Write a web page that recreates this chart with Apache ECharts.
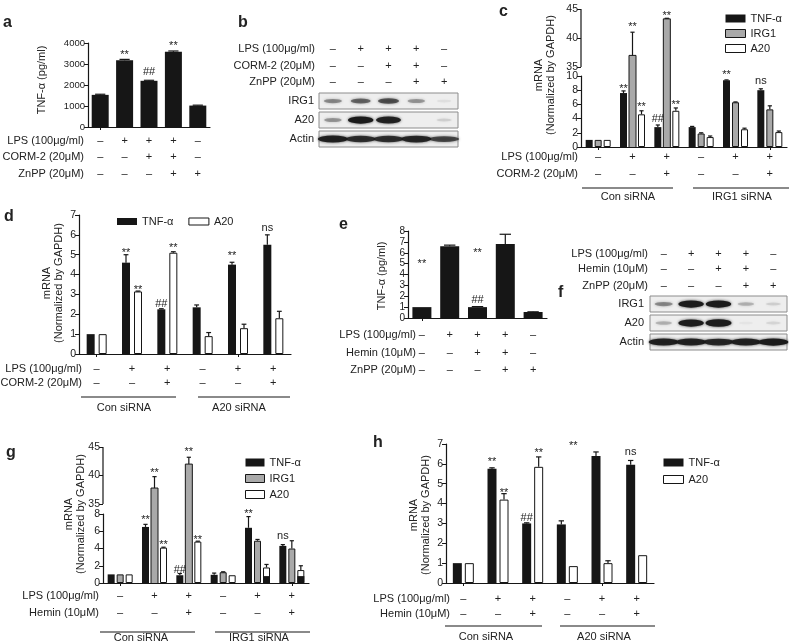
<!DOCTYPE html>
<html>
<head>
<meta charset="utf-8">
<script src="https://cdn.jsdelivr.net/npm/echarts@6/dist/echarts.min.js"></script>
<style>
  html, body { margin: 0; padding: 0; background: #fff; }
  #chart { width: 789px; height: 644px; }
</style>
</head>
<body>
<div id="chart"></div>
<script>
// ---------- data ----------
// a: TNF-α ELISA
const aConditions = ['ctrl', 'LPS', 'LPS+CORM-2', 'LPS+CORM-2+ZnPP', 'ZnPP'];
const aTnf = [1530, 3180, 2200, 3580, 1020];
const aTnfErr = [30, 40, 25, 40, 20];
const aLps = ['–', '+', '+', '+', '–'];
const aCorm = ['–', '–', '+', '+', '–'];
const aZnpp = ['–', '–', '–', '+', '+'];
const aNotes = [[1, 0, 3570, '**'], [2, 0, 2620, '##'], [3, 0, 4000, '**']];

// b: western blot (band intensity 0..1)
const bLanes = ['1', '2', '3', '4', '5'];
const bLps = ['–', '+', '+', '+', '–'];
const bCorm = ['–', '–', '+', '+', '–'];
const bZnpp = ['–', '–', '–', '+', '+'];
const bIrg1 = [0.35, 0.5, 0.6, 0.3, 0.05];
const bA20 = [0.3, 0.95, 0.9, 0.0, 0.1];
const bActin = [0.9, 0.8, 0.8, 0.85, 0.65];

// c: mRNA, Con siRNA vs IRG1 siRNA, CORM-2
const cConditions = ['Con', 'Con LPS', 'Con LPS+CORM-2', 'IRG1', 'IRG1 LPS', 'IRG1 LPS+CORM-2'];
const cTnf = [1, 7.6, 2.8, 2.8, 9.4, 8.0];
const cTnfErr = [0, 0.3, 0.3, 0.1, 0.05, 0.2];
const cIrg1 = [1, 37, 43.3, 1.9, 6.3, 5.3];
const cIrg1Err = [0, 4, 0.1, 0.1, 0.05, 0.5];
const cA20 = [1, 4.6, 5.1, 1.4, 2.5, 2.1];
const cA20Err = [0, 0.5, 0.4, 0.15, 0.15, 0.15];
const cLps = ['–', '+', '+', '–', '+', '+'];
const cCorm = ['–', '–', '+', '–', '–', '+'];
const cUpperTicks = [35, 40, 45];
const cNotes = [[1, 0, 8.6, '**'], [1, 1, 42.5, '**'], [1, 2, 6.1, '**'], [2, 0, 3.9, '##'],
  [2, 1, 44.3, '**'], [2, 2, 6.4, '**'], [4, 0, 10.6, '**'], [5, 0, 9.3, 'ns']];

// d: mRNA, Con siRNA vs A20 siRNA, CORM-2
const dConditions = ['Con', 'Con LPS', 'Con LPS+CORM-2', 'A20', 'A20 LPS', 'A20 LPS+CORM-2'];
const dTnf = [1, 4.6, 2.25, 2.35, 4.5, 5.5];
const dTnfErr = [0, 0.4, 0.03, 0.12, 0.12, 0.5];
const dA20 = [1, 3.15, 5.1, 0.9, 1.3, 1.8];
const dA20Err = [0, 0.02, 0.05, 0.18, 0.2, 0.35];
const dLps = ['–', '+', '+', '–', '+', '+'];
const dCorm = ['–', '–', '+', '–', '–', '+'];
const dNotes = [[1, 0, 5.24, '**'], [1, 1, 3.37, '**'], [2, 0, 2.52, '##'], [2, 1, 5.5, '**'],
  [4, 0, 5.08, '**'], [5, 0, 6.34, 'ns']];

// e: TNF-α ELISA with hemin
const eConditions = ['ctrl', 'LPS', 'LPS+Hemin', 'LPS+Hemin+ZnPP', 'ZnPP'];
const eTnf = [1.0, 6.6, 1.0, 6.8, 0.55];
const eTnfErr = [0, 0.1, 0.05, 0.9, 0.02];
const eLps = ['–', '+', '+', '+', '–'];
const eHemin = ['–', '–', '+', '+', '–'];
const eZnpp = ['–', '–', '–', '+', '+'];
const eNotes = [[0, 0, 5.23, '**'], [2, 0, 6.24, '**'], [2, 0, 1.65, '##']];

// f: western blot with hemin
const fLps = ['–', '+', '+', '+', '–'];
const fHemin = ['–', '–', '+', '+', '–'];
const fZnpp = ['–', '–', '–', '+', '+'];
const fIrg1 = [0.35, 0.95, 0.95, 0.2, 0.1];
const fA20 = [0.2, 0.95, 1.0, 0.03, 0.08];
const fActin = [0.9, 0.9, 0.85, 0.9, 0.95];

// g: mRNA, Con siRNA vs IRG1 siRNA, hemin
const gTnf = [1, 6.5, 0.9, 0.95, 6.4, 4.3];
const gTnfErr = [0, 0.3, 0.2, 0.2, 1.3, 0.15];
const gIrg1 = [1, 37.8, 42, 1.25, 4.9, 4.0];
const gIrg1Err = [0, 2, 1.2, 0.05, 0.15, 0.9];
const gA20 = [1, 4.1, 4.8, 0.9, 1.8, 1.5];
const gA20Err = [0, 0.05, 0.05, 0, 0.35, 0.5];
const gA20Dark = [0, 0, 0, 0, 0.8, 0.8];
const gLps = ['–', '+', '+', '–', '+', '+'];
const gHemin = ['–', '–', '+', '–', '–', '+'];
const gUpperTicks = [35, 40, 45];
const gNotes = [[1, 0, 7.67, '**'], [1, 1, 41.0, '**'], [1, 2, 4.77, '**'], [2, 0, 1.5, '##'],
  [2, 1, 44.65, '**'], [2, 2, 5.35, '**'], [4, 0, 8.4, '**'], [5, 0, 5.47, 'ns']];

// h: mRNA, Con siRNA vs A20 siRNA, hemin
const hTnf = [1, 5.75, 3.0, 2.95, 6.4, 5.95];
const hTnfErr = [0, 0.05, 0.03, 0.18, 0.2, 0.22];
const hA20 = [1, 4.2, 5.85, 0.85, 1.0, 1.4];
const hA20Err = [0, 0.3, 0.5, 0, 0.12, 0];
const hLps = ['–', '+', '+', '–', '+', '+'];
const hHemin = ['–', '–', '+', '–', '–', '+'];
const hNotes = [[1, 0, 6.25, '**'], [1, 1, 4.7, '**'], [2, 0, 3.3, '##'], [2, 1, 6.7, '**'],
  [3, 1, 7.05, '**'], [5, 0, 6.6, 'ns']];

// ---------- helpers ----------
const FONT = '"Liberation Sans", Arial, sans-serif';
const INK = '#161616';
const TXT = '#222';
const TNF_COLOR = '#161616', IRG1_COLOR = '#a9a9a9', A20_COLOR = '#ffffff';

const option = {
  animation: false,
  backgroundColor: '#fff',
  textStyle: { fontFamily: FONT },
  grid: [], xAxis: [], yAxis: [], series: [], legend: [], graphic: []
}

const addGrid = (box, extra) => {
  option.grid.push(Object.assign({ left: box.left, top: box.top, width: box.width, height: box.height }, extra || {}))
  return option.grid.length - 1
}
const addX = (gridIndex, o) => { option.xAxis.push(Object.assign({ gridIndex }, o)); return option.xAxis.length - 1 }
const addY = (gridIndex, o) => { option.yAxis.push(Object.assign({ gridIndex }, o)); return option.yAxis.length - 1 }

const mainX = (gi, cats) => addX(gi, {
  type: 'category', data: cats,
  axisLine: { show: true, onZero: false, lineStyle: { color: INK, width: 1.2 } },
  axisTick: { show: true, alignWithLabel: true, length: 3, lineStyle: { color: INK } },
  axisLabel: { show: false }, splitLine: { show: false }
})
const hiddenX = (gi, cats) => addX(gi, { type: 'category', data: cats, show: false })

const valueY = (gi, min, max, interval, fontSize) => addY(gi, {
  type: 'value', min, max, interval,
  axisLine: { show: true, lineStyle: { color: INK, width: 1.2 } },
  axisTick: { show: true, length: 4, lineStyle: { color: INK } },
  axisLabel: { fontSize: fontSize || 10.5, color: TXT, margin: 3, fontFamily: 'Liberation Sans', formatter: v => String(v) },
  splitLine: { show: false }
})

// row of +/– under (or above) a panel, one label per lane
const signRow = (gi, values, offset, position) => addX(gi, {
  type: 'category', data: values, position: position || 'bottom', offset,
  axisLine: { show: false, onZero: false }, axisTick: { show: false }, splitLine: { show: false },
  axisLabel: { interval: 0, margin: 0, verticalAlign: 'middle', fontSize: 11, color: TXT, fontFamily: 'Liberation Sans' }
})

const barOffsets = (n, w, gap) => Array.from({ length: n }, (_, k) => (k - (n - 1) / 2) * (w + gap))

const addBars = (xi, yi, bars, w, gap, keep) => {
  bars.forEach(b => {
    option.series.push({
      type: 'bar', name: b.name, xAxisIndex: xi, yAxisIndex: yi,
      barWidth: w, barGap: (gap / w * 100) + '%', silent: true, clip: true,
      data: b.values.map(v => (keep(v) ? v : null)),
      itemStyle: { color: b.color, borderColor: INK, borderWidth: b.outline ? 1 : 0 }
    })
  })
}

const addErrors = (xi, yi, bars, w, gap, keep) => {
  const offs = barOffsets(bars.length, w, gap)
  const cap = Math.max(4, w * 0.6)
  bars.forEach((b, k) => {
    const data = []
    b.values.forEach((v, i) => { if (keep(v) && b.errs[i] > 0) data.push([i, v, b.errs[i]]) })
    option.series.push({
      type: 'custom', xAxisIndex: xi, yAxisIndex: yi, silent: true, clip: false, z: 3, data,
      renderItem: (params, api) => {
        const c = api.value(0), v = api.value(1), e = api.value(2)
        const p0 = api.coord([c, v]), p1 = api.coord([c, v + e])
        const x = p0[0] + offs[k]
        const st = { stroke: INK, lineWidth: 1.2 }
        return {
          type: 'group', children: [
            { type: 'line', shape: { x1: x, y1: p0[1], x2: x, y2: p1[1] }, style: st },
            { type: 'line', shape: { x1: x - cap / 2, y1: p1[1], x2: x + cap / 2, y2: p1[1] }, style: st }
          ]
        }
      }
    })
  })
}

const addNotes = (xi, yi, notes, offs) => {
  option.series.push({
    type: 'custom', xAxisIndex: xi, yAxisIndex: yi, silent: true, clip: false, z: 4,
    data: notes.map(n => [n[0], n[2], n[1]]),
    renderItem: (params, api) => {
      const p = api.coord([api.value(0), api.value(1)])
      const t = notes[params.dataIndex][3]
      return {
        type: 'text', x: p[0] + offs[api.value(2)], y: p[1] + (t === '**' ? 3 : 0),
        style: { text: t, align: 'center', verticalAlign: 'middle', font: '11px ' + FONT, fill: TXT }
      }
    }
  })
}

const gText = (x, y, text, align, font) => option.graphic.push({
  type: 'text', x, y, silent: true,
  style: { text, font: font || ('11px ' + FONT), fill: TXT, align: align || 'right', verticalAlign: 'middle' }
})
const gLetter = (x, y, text) => gText(x, y, text, 'left', 'bold 16px ' + FONT)
const gVText = (x, y, text) => option.graphic.push({
  type: 'text', x, y, rotation: Math.PI / 2, silent: true,
  style: { text, font: '11px ' + FONT, fill: TXT, align: 'center', verticalAlign: 'middle', lineHeight: 12 }
})
const gLine = (x1, x2, y) => option.graphic.push({
  type: 'line', silent: true, shape: { x1, y1: y, x2, y2: y }, style: { stroke: INK, lineWidth: 1.2 }
})

const legendFor = (box, orient, items, w, h, gap) => option.legend.push({
  left: box.left, top: box.top, orient, padding: 0, itemWidth: w, itemHeight: h, itemGap: gap,
  icon: 'rect', selectedMode: false,
  textStyle: { fontSize: 11, color: TXT, fontFamily: 'Liberation Sans' },
  data: items.map(b => ({ name: b.name, itemStyle: { color: b.color, borderColor: INK, borderWidth: b.outline ? 1 : 0 } }))
})

// simple bar panel: one grid
const barPanel = p => {
  const gi = addGrid(p.grid)
  const xi = mainX(gi, p.categories)
  const yi = valueY(gi, p.yMin, p.yMax, p.yInterval, p.tickFont)
  const all = () => true
  addBars(xi, yi, p.bars, p.barWidth, p.barGap, all)
  addErrors(xi, yi, p.bars, p.barWidth, p.barGap, all)
  addNotes(xi, yi, p.notes, barOffsets(p.bars.length, p.barWidth, p.barGap))
  p.rows.forEach(r => {
    signRow(gi, r.values, r.offset)
    gText(p.rowLabelX, p.grid.top + p.grid.height + r.offset, r.label)
  })
  return { gi, xi, yi }
}

// bar panel with a broken y axis: lower 0..lowerMax, upper 35..45
const brokenPanel = p => {
  const low = p.grid
  const lowerBase = low.top + low.height
  const upperBottom = low.top + 3
  const ppu = (p.px35 - p.upperTop) / (p.upperTicks[p.upperTicks.length - 1] - p.upperTicks[0])
  const uMin = p.upperTicks[0] - (upperBottom - p.px35) / ppu
  const uMax = p.upperTicks[p.upperTicks.length - 1]
  const offs = barOffsets(p.bars.length, p.barWidth, p.barGap)
  const isHigh = v => v > p.lowerMax
  const isLow = v => v <= p.lowerMax

  // upper part
  const giU = addGrid({ left: low.left, top: p.upperTop, width: low.width, height: upperBottom - p.upperTop })
  const xU = hiddenX(giU, p.categories)
  const yU = addY(giU, {
    type: 'value', min: uMin, max: uMax,
    axisLine: { show: false },
    axisTick: { show: true, length: 4, customValues: p.upperTicks, lineStyle: { color: INK } },
    axisLabel: { customValues: p.upperTicks, fontSize: 10.5, color: TXT, margin: 3, fontFamily: 'Liberation Sans' },
    splitLine: { show: false }
  })
  // tall bars run unbroken from the lower baseline up to their value on the upper scale
  p.bars.forEach((b, k) => {
    const data = []
    b.values.forEach((v, i) => { if (isHigh(v)) data.push([i, v]) })
    option.series.push({
      type: 'custom', xAxisIndex: xU, yAxisIndex: yU, silent: true, clip: false, z: 2, data,
      renderItem: (params, api) => {
        const pt = api.coord([api.value(0), api.value(1)])
        const x0 = pt[0] + offs[k] - p.barWidth / 2, x1 = x0 + p.barWidth
        return {
          type: 'group', children: [
            { type: 'rect', shape: { x: x0, y: pt[1], width: p.barWidth, height: lowerBase - pt[1] }, style: { fill: b.color } },
            { type: 'polyline', shape: { points: [[x0, lowerBase], [x0, pt[1]], [x1, pt[1]], [x1, lowerBase]] },
              style: { stroke: b.outline ? INK : b.color, fill: 'none', lineWidth: 1 } }
          ]
        }
      }
    })
  })
  addErrors(xU, yU, p.bars, p.barWidth, p.barGap, isHigh)
  addNotes(xU, yU, p.notes.filter(n => n[2] > 30), offs)
  // upper axis segment, 35..45 only
  option.series.push({
    type: 'custom', xAxisIndex: xU, yAxisIndex: yU, silent: true, clip: false, z: 3,
    data: [[0, p.upperTicks[0], uMax]],
    renderItem: (params, api) => {
      const x = params.coordSys.x
      const y1 = api.coord([0, api.value(1)])[1], y2 = api.coord([0, api.value(2)])[1]
      return { type: 'line', shape: { x1: x, y1, x2: x, y2 }, style: { stroke: INK, lineWidth: 1.2 } }
    }
  })

  // lower part
  const gi = addGrid(low)
  const xi = mainX(gi, p.categories)
  const yi = valueY(gi, 0, p.lowerMax, p.lowerInterval, 10.5)
  addBars(xi, yi, p.bars, p.barWidth, p.barGap, isLow)
  addErrors(xi, yi, p.bars, p.barWidth, p.barGap, isLow)
  addNotes(xi, yi, p.notes.filter(n => n[2] <= 30), offs)
  p.rows.forEach(r => {
    signRow(gi, r.values, r.offset)
    gText(p.rowLabelX, lowerBase + r.offset, r.label)
  })
  return { gi, xi, yi, offs }
}

// western blot: three boxed strips, bands drawn as blurred ellipses
const blotPanel = p => {
  p.strips.forEach((s, r) => {
    const gi = addGrid({ left: p.left, top: s.top, width: p.width, height: p.stripH },
      { show: true, borderColor: '#8c8c8c', borderWidth: 1, backgroundColor: '#eeeeee' })
    const xi = hiddenX(gi, bLanes)
    const yi = addY(gi, { type: 'value', min: 0, max: 1, show: false })
    option.series.push({
      type: 'scatter', xAxisIndex: xi, yAxisIndex: yi, silent: true, symbol: 'circle',
      data: s.values.map((v, i) => ({
        value: [i, 0.5],
        symbolSize: [s.wide ? 30 : 14 + 12 * v, 2.5 + 5 * v],
        itemStyle: { opacity: Math.min(1, v * 1.05) }
      })),
      itemStyle: { color: '#1b1b1b', shadowBlur: 3, shadowColor: 'rgba(0,0,0,0.7)' }
    })
    gText(p.stripLabelX, s.top + p.stripH / 2, s.label)
    if (r === 0) {
      p.rows.forEach(row => {
        signRow(gi, row.values, row.offset, 'top')
        gText(p.rowLabelX, s.top - row.offset, row.label)
      })
    }
  })
}

// ---------- panels ----------
const LPS = 'LPS (100μg/ml)', CORM = 'CORM-2 (20μM)', ZNPP = 'ZnPP (20μM)', HEMIN = 'Hemin (10μM)'
const MRNA = 'mRNA\n(Normalized by GAPDH)'

// a
barPanel({
  grid: { left: 88, top: 43, width: 122, height: 84 }, categories: aConditions,
  yMin: 0, yMax: 4000, yInterval: 1000, tickFont: 9.5,
  bars: [{ name: 'TNF-α', values: aTnf, errs: aTnfErr, color: TNF_COLOR }],
  barWidth: 17, barGap: 0, notes: aNotes, rowLabelX: 84,
  rows: [{ label: LPS, values: aLps, offset: 14 }, { label: CORM, values: aCorm, offset: 30 },
    { label: ZNPP, values: aZnpp, offset: 47 }]
})
gVText(42, 80, 'TNF-α (pg/ml)')
gLetter(3, 23, 'a')

// b
blotPanel({
  left: 319, width: 139, stripH: 16, stripLabelX: 314, rowLabelX: 315,
  strips: [{ label: 'IRG1', top: 93, values: bIrg1 }, { label: 'A20', top: 112, values: bA20 },
    { label: 'Actin', top: 131, values: bActin, wide: true }],
  rows: [{ label: LPS, values: bLps, offset: 44 }, { label: CORM, values: bCorm, offset: 27 },
    { label: ZNPP, values: bZnpp, offset: 11 }]
})
gLetter(238, 23, 'b')

// c
const cBars = [
  { name: 'TNF-α', values: cTnf, errs: cTnfErr, color: TNF_COLOR },
  { name: 'IRG1', values: cIrg1, errs: cIrg1Err, color: IRG1_COLOR, outline: true },
  { name: 'A20', values: cA20, errs: cA20Err, color: A20_COLOR, outline: true }
]
brokenPanel({
  grid: { left: 581, top: 76, width: 206, height: 71 }, upperTop: 9, px35: 67,
  upperTicks: cUpperTicks, lowerMax: 10, lowerInterval: 2, categories: cConditions,
  bars: cBars, barWidth: 7, barGap: 2, notes: cNotes, rowLabelX: 578,
  rows: [{ label: LPS, values: cLps, offset: 10 }, { label: CORM, values: cCorm, offset: 27 }]
})
legendFor({ left: 725, top: 13 }, 'vertical', cBars, 20, 8, 4)
gVText(545, 75, MRNA)
gLine(582, 673, 188); gLine(693, 789, 188)
gText(628, 197, 'Con siRNA', 'center'); gText(742, 197, 'IRG1 siRNA', 'center')
gLetter(499, 12, 'c')

// d
const dBars = [
  { name: 'TNF-α', values: dTnf, errs: dTnfErr, color: TNF_COLOR },
  { name: 'A20', values: dA20, errs: dA20Err, color: A20_COLOR, outline: true }
]
barPanel({
  grid: { left: 79, top: 215, width: 212, height: 139 }, categories: dConditions,
  yMin: 0, yMax: 7, yInterval: 1, tickFont: 10.5,
  bars: dBars, barWidth: 8, barGap: 4, notes: dNotes, rowLabelX: 82,
  rows: [{ label: LPS, values: dLps, offset: 15 }, { label: CORM, values: dCorm, offset: 29 }]
})
legendFor({ left: 117, top: 216 }, 'horizontal', dBars, 20, 7, 15)
gVText(53, 283, MRNA)
gLine(81, 176, 397); gLine(198, 290, 397)
gText(124, 408, 'Con siRNA', 'center'); gText(239, 408, 'A20 siRNA', 'center')
gLetter(4, 217, 'd')

// e
barPanel({
  grid: { left: 408, top: 231, width: 139, height: 87 }, categories: eConditions,
  yMin: 0, yMax: 8, yInterval: 1, tickFont: 10,
  bars: [{ name: 'TNF-α', values: eTnf, errs: eTnfErr, color: TNF_COLOR }],
  barWidth: 19, barGap: 0, notes: eNotes, rowLabelX: 416,
  rows: [{ label: LPS, values: eLps, offset: 17 }, { label: HEMIN, values: eHemin, offset: 35 },
    { label: ZNPP, values: eZnpp, offset: 52 }]
})
gVText(382, 276, 'TNF-α (pg/ml)')
gLetter(339, 225, 'e')

// f
blotPanel({
  left: 650, width: 137, stripH: 16, stripLabelX: 644, rowLabelX: 648,
  strips: [{ label: 'IRG1', top: 296, values: fIrg1 }, { label: 'A20', top: 315, values: fA20 },
    { label: 'Actin', top: 334, values: fActin, wide: true }],
  rows: [{ label: LPS, values: fLps, offset: 42 }, { label: HEMIN, values: fHemin, offset: 27 },
    { label: ZNPP, values: fZnpp, offset: 10 }]
})
gLetter(558, 293, 'f')

// g
const gBars = [
  { name: 'TNF-α', values: gTnf, errs: gTnfErr, color: TNF_COLOR },
  { name: 'IRG1', values: gIrg1, errs: gIrg1Err, color: IRG1_COLOR, outline: true },
  { name: 'A20', values: gA20, errs: gA20Err, color: A20_COLOR, outline: true }
]
const gPanel = brokenPanel({
  grid: { left: 103, top: 514, width: 206, height: 69 }, upperTop: 447, px35: 504,
  upperTicks: gUpperTicks, lowerMax: 8, lowerInterval: 2, categories: cConditions,
  bars: gBars, barWidth: 7, barGap: 2, notes: gNotes, rowLabelX: 99,
  rows: [{ label: LPS, values: gLps, offset: 13 }, { label: HEMIN, values: gHemin, offset: 30 }]
})
// dark lower part inside the A20 bars of the IRG1 siRNA groups
option.series.push({
  type: 'custom', xAxisIndex: gPanel.xi, yAxisIndex: gPanel.yi, silent: true, z: 3,
  data: gA20Dark.map((v, i) => [i, v]).filter(d => d[1] > 0),
  renderItem: (params, api) => {
    const p0 = api.coord([api.value(0), 0]), p1 = api.coord([api.value(0), api.value(1)])
    return { type: 'rect', shape: { x: p0[0] + gPanel.offs[2] - 3.5, y: p1[1], width: 7, height: p0[1] - p1[1] }, style: { fill: TNF_COLOR } }
  }
})
legendFor({ left: 245, top: 457 }, 'vertical', gBars, 19, 8, 5)
gVText(75, 514, MRNA)
gLine(100, 195, 632); gLine(215, 310, 632)
gText(141, 638, 'Con siRNA', 'center'); gText(259, 638, 'IRG1 siRNA', 'center')
gLetter(6, 453, 'g')

// h
const hBars = [
  { name: 'TNF-α', values: hTnf, errs: hTnfErr, color: TNF_COLOR },
  { name: 'A20', values: hA20, errs: hA20Err, color: A20_COLOR, outline: true }
]
barPanel({
  grid: { left: 446, top: 444, width: 208, height: 139 }, categories: dConditions,
  yMin: 0, yMax: 7, yInterval: 1, tickFont: 10.5,
  bars: hBars, barWidth: 9, barGap: 3, notes: hNotes, rowLabelX: 450,
  rows: [{ label: LPS, values: hLps, offset: 16 }, { label: HEMIN, values: hHemin, offset: 31 }]
})
legendFor({ left: 663, top: 457 }, 'vertical', hBars, 20, 8, 6)
gVText(420, 515, MRNA)
gLine(445, 542, 626); gLine(560, 655, 626)
gText(486, 637, 'Con siRNA', 'center'); gText(604, 637, 'A20 siRNA', 'center')
gLetter(373, 443, 'h')

const chart = echarts.init(document.getElementById('chart'), null, { renderer: 'canvas' })
chart.setOption(option)
</script>
</body>
</html>
